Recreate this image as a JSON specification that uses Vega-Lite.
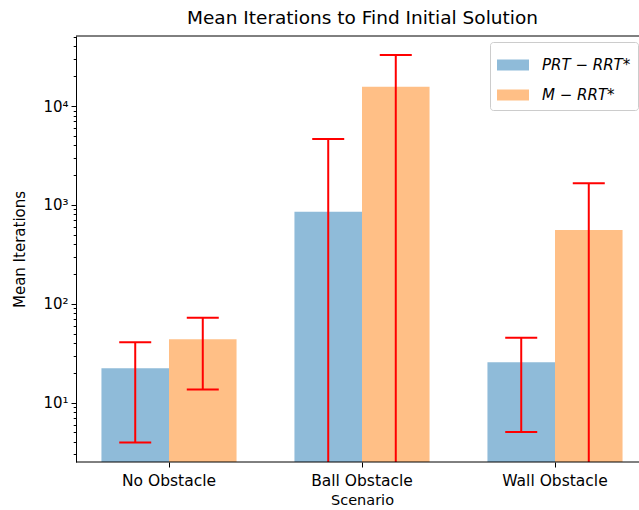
{
  "$schema": "https://vega.github.io/schema/vega-lite/v6.json",
  "autosize": {"type": "none"},
  "padding": {"left": 76, "right": 0, "top": 36, "bottom": 48},
  "width": 563,
  "height": 426,
  "title": {"text": "Mean Iterations to Find Initial Solution", "fontSize": 18.5, "fontWeight": "normal", "color": "black", "dx": 5, "offset": 2},
  "config": {
    "font": "DejaVu Sans",
    "view": {"stroke": null},
    "axis": {"labelColor": "black", "titleColor": "black", "tickColor": "black", "domainColor": "black", "titleFontWeight": "normal", "grid": false}
  },
  "data": {"values": [
    {"scenario": "No Obstacle", "series": "PRT − RRT*", "mean": 22.3, "lower": 3.95, "upper": 40.8},
    {"scenario": "No Obstacle", "series": "M − RRT*", "mean": 43.8, "lower": 13.6, "upper": 72.3},
    {"scenario": "Ball Obstacle", "series": "PRT − RRT*", "mean": 853, "lower": 0.001, "upper": 4635},
    {"scenario": "Ball Obstacle", "series": "M − RRT*", "mean": 15670, "lower": 0.001, "upper": 32800},
    {"scenario": "Wall Obstacle", "series": "PRT − RRT*", "mean": 25.6, "lower": 5.06, "upper": 45.4},
    {"scenario": "Wall Obstacle", "series": "M − RRT*", "mean": 557, "lower": 0.001, "upper": 1652}
  ]},
  "encoding": {
    "x": {"field": "scenario", "type": "nominal", "sort": ["No Obstacle", "Ball Obstacle", "Wall Obstacle"],
      "scale": {"range": [-3.5, 575.5], "paddingInner": 0, "paddingOuter": 0},
      "axis": {"title": "Scenario", "labelAngle": 0, "labelFontSize": 15.5, "titleFontSize": 14.5, "domain": false, "tickSize": 5, "labelPadding": 6, "titlePadding": 5, "titleX": 286}},
    "xOffset": {"field": "series", "type": "nominal", "sort": ["PRT − RRT*", "M − RRT*"], "scale": {"paddingInner": 0, "paddingOuter": 0.4286}}
  },
  "layer": [
    {
      "mark": {"type": "bar", "opacity": 1},
      "encoding": {
        "y": {"field": "mean", "type": "quantitative", "stack": null,
          "scale": {"type": "log", "domain": [2.515, 51030], "nice": false, "zero": false},
          "axis": {"title": "Mean Iterations", "titleFontSize": 15, "labelFontSize": 15, "titlePadding": 15, "labelPadding": 3,
            "values": [3,4,5,6,7,8,9,10,20,30,40,50,60,70,80,90,100,200,300,400,500,600,700,800,900,1000,2000,3000,4000,5000,6000,7000,8000,9000,10000,20000,30000,40000,50000],
            "labelExpr": "datum.value == 10 ? '10¹' : datum.value == 100 ? '10²' : datum.value == 1000 ? '10³' : datum.value == 10000 ? '10⁴' : ''",
            "labelOverlap": false, "labelFlush": false,
            "tickSize": {"condition": {"test": "indexof([10,100,1000,10000], datum.value) >= 0", "value": 5}, "value": 2.8},
            "domain": true}},
        "color": {"field": "series", "type": "nominal", "sort": ["PRT − RRT*", "M − RRT*"],
          "scale": {"domain": ["PRT − RRT*", "M − RRT*"], "range": ["#8fbbd9", "#ffbf86"]},
          "legend": {"title": null, "orient": "none", "legendX": 414, "legendY": 6,
            "symbolType": "M-1,-0.344H1V0.344H-1Z", "symbolSize": 1024, "symbolStrokeWidth": 0, "symbolOpacity": 1,
            "labelFontSize": 15, "labelFontStyle": "italic", "labelColor": "black", "labelOffset": 13,
            "rowPadding": 6, "padding": 7, "fillColor": "white", "strokeColor": "#cccccc", "cornerRadius": 3}}
      }
    },
    {
      "mark": {"type": "rule", "color": "#ff0000", "strokeWidth": 2, "clip": true},
      "encoding": {"y": {"field": "lower", "type": "quantitative"}, "y2": {"field": "upper"}}
    },
    {
      "mark": {"type": "tick", "color": "#ff0000", "thickness": 2, "size": 32, "clip": true, "opacity": 1},
      "encoding": {"y": {"field": "upper", "type": "quantitative"}}
    },
    {
      "mark": {"type": "tick", "color": "#ff0000", "thickness": 2, "size": 32, "clip": true, "opacity": 1},
      "encoding": {"y": {"field": "lower", "type": "quantitative"}}
    },
    {
      "data": {"values": [{"edge": 2.515}, {"edge": 51030}]},
      "mark": {"type": "rule", "color": "black", "strokeWidth": 1},
      "encoding": {"y": {"field": "edge", "type": "quantitative"}, "x": null, "xOffset": null}
    }
  ]
}
